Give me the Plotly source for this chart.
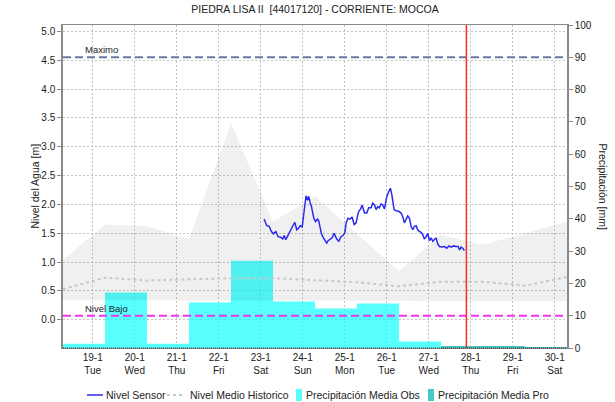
import pandas as pd
import plotly.graph_objects as go

# ---- data -------------------------------------------------------------
TITLE = "PIEDRA LISA II\u00a0 [44017120] - CORRIENTE: MOCOA"

# hydrological days run 07:00 -> 07:00
day_starts = ["2021-01-18 07:00", "2021-01-19 07:00", "2021-01-20 07:00",
              "2021-01-21 07:00", "2021-01-22 07:00", "2021-01-23 07:00",
              "2021-01-24 07:00", "2021-01-25 07:00", "2021-01-26 07:00",
              "2021-01-27 07:00", "2021-01-28 07:00", "2021-01-29 07:00",
              "2021-01-30 07:00"]

# observed / forecast mean precipitation per day [mm]
obs_days = day_starts[:9]
obs_mm = [1.3, 17.2, 1.3, 14.1, 27.0, 14.4, 12.2, 13.8, 2.0]
pro_days = day_starts[9:12]
pro_mm = [0.5, 0.5, 0.3]

# historic level envelope and median [m]
hist_max = [1.04, 1.65, 1.62, 1.40, 3.41, 1.70, 2.14, 1.49, 0.84, 1.47, 1.30, 1.50, 1.70]
hist_min = [0.34, 0.34, 0.34, 0.34, 0.34, 0.34, 0.33, 0.33, 0.33, 0.32, 0.31, 0.32, 0.32]
hist_med = [0.53, 0.73, 0.68, 0.70, 0.72, 0.72, 0.69, 0.65, 0.58, 0.66, 0.66, 0.59, 0.74]

# sensor level, hours after 2021-01-23 00:00
sensor_t0 = "2021-01-23 00:00"
sensor_hours = [1.9, 3.4, 4.8, 6.1, 7.3, 8.6, 9.9, 11.4, 12.6, 13.4, 14.3, 15.7,
                17.1, 18.7, 19.4, 20.6, 21.7, 22.5, 23.7, 24.4, 25.1, 25.9, 26.7,
                27.4, 28.2, 29.0, 29.7, 30.5, 31.4, 32.4, 33.1, 33.9, 34.7, 35.8,
                37.0, 37.7, 38.5, 39.7, 40.8, 41.9, 42.7, 43.4, 44.6, 45.7, 46.9,
                48.0, 48.8, 49.9, 51.1, 52.2, 53.4, 54.5, 55.3, 56.0, 57.1, 57.9,
                59.3, 60.6, 61.7, 63.1, 64.0, 65.0, 65.9, 66.9, 67.8, 68.8, 69.7,
                70.7, 71.3, 72.0, 73.1, 74.1, 74.9, 75.4, 76.2, 77.4, 78.9, 80.2,
                81.1, 82.1, 83.1, 84.0, 85.0, 85.9, 86.9, 87.8, 88.8, 89.7, 90.7,
                91.8, 92.6, 93.5, 94.5, 95.4, 96.4, 97.3, 98.3, 99.3, 100.2, 101.1,
                102.1, 103.6, 105.0, 106.3, 107.5, 108.8, 110.2, 111.7, 112.8,
                113.6, 114.5, 115.4, 116.4]
sensor_m = [1.745, 1.63, 1.62, 1.53, 1.49, 1.53, 1.44, 1.43, 1.40, 1.46, 1.39, 1.47,
            1.55, 1.63, 1.69, 1.56, 1.59, 1.63, 1.61, 1.79, 1.99, 2.15, 2.07,
            2.14, 2.03, 1.96, 1.85, 1.745, 1.70, 1.745, 1.72, 1.57, 1.49, 1.42,
            1.37, 1.33, 1.37, 1.40, 1.42, 1.50, 1.44, 1.40, 1.36, 1.43, 1.46,
            1.50, 1.68, 1.76, 1.745, 1.78, 1.65, 1.68, 1.80, 1.88, 1.92, 1.99,
            1.85, 1.85, 1.94, 1.94, 2.02, 1.99, 1.91, 1.96, 1.94, 2.01, 1.99,
            1.92, 2.02, 2.13, 2.22, 2.28, 2.17, 2.03, 1.91, 1.89, 1.88, 1.85,
            1.79, 1.68, 1.745, 1.80, 1.76, 1.62, 1.56, 1.62, 1.63, 1.56, 1.53,
            1.51, 1.47, 1.40, 1.44, 1.50, 1.37, 1.42, 1.36, 1.39, 1.42, 1.32,
            1.27, 1.26, 1.27, 1.24, 1.28, 1.26, 1.28, 1.27, 1.27,
            1.21, 1.26, 1.24, 1.20]

NIVEL_MAXIMO = 4.55
NIVEL_BAJO = 0.07
NOW = "2021-01-27 21:30"

tick_dates = ["2021-01-%02d" % d for d in range(19, 31)]
tick_text = ["19-1<br>Tue", "20-1<br>Wed", "21-1<br>Thu", "22-1<br>Fri",
             "23-1<br>Sat", "24-1<br>Sun", "25-1<br>Mon", "26-1<br>Tue",
             "27-1<br>Wed", "28-1<br>Thu", "29-1<br>Fri", "30-1<br>Sat"]

legend_labels = ["Nivel Sensor", "Nivel Medio Historico",
                 "Precipitación Media Obs", "Precipitación Media Pro"]

# ---- styling ----------------------------------------------------------
FONT = "Liberation Sans, Arial, sans-serif"
TXT = "#222222"
C_SENSOR = "#2A2AEE"
C_MEDIAN = "#C8C8C8"
C_OBS = "rgba(0,255,255,0.66)"
C_PRO = "#46C8C8"
W, H = 615, 402
ML, MR, MT, MB = 63, 48, 25, 54
PW, PH = W - ML - MR, H - MT - MB


def px_x(px):
    """pixel column -> paper x"""
    return (px - ML) / PW


def px_y(py):
    """pixel row -> paper y"""
    return (H - MB - py) / PH


DAY_MS = 86400000
sensor_x = pd.Timestamp(sensor_t0) + pd.to_timedelta(sensor_hours, unit="h")

fig = go.Figure()

# precipitation bars on the primary (right-hand) axis, drawn beneath levels
fig.add_trace(go.Bar(
    x=obs_days, y=obs_mm, offset=0, width=DAY_MS, yaxis="y",
    marker=dict(color=C_OBS, line=dict(width=0)), name=legend_labels[2]))
fig.add_trace(go.Bar(
    x=pro_days, y=pro_mm, offset=0, width=DAY_MS, yaxis="y",
    marker=dict(color=C_PRO, line=dict(width=0)), name=legend_labels[3]))

# historic envelope
fig.add_trace(go.Scatter(
    x=day_starts + day_starts[::-1], y=hist_max + hist_min[::-1],
    yaxis="y2", mode="lines", fill="toself",
    fillcolor="rgba(0,0,0,0.06)", line=dict(width=0), hoverinfo="skip"))

fig.add_trace(go.Scatter(
    x=day_starts, y=hist_med, yaxis="y2", mode="lines",
    line=dict(color=C_MEDIAN, width=2, dash="3px,3px"), name=legend_labels[1]))

fig.add_trace(go.Scatter(
    x=sensor_x, y=sensor_m, yaxis="y2", mode="lines",
    line=dict(color=C_SENSOR, width=1.5), name=legend_labels[0]))

shapes = [
    dict(type="line", xref="paper", x0=0, x1=1, yref="y2",
         y0=NIVEL_MAXIMO, y1=NIVEL_MAXIMO, layer="above",
         line=dict(color="#6A77A0", width=2, dash="8px,4px")),
    dict(type="line", xref="paper", x0=0, x1=1, yref="y2",
         y0=NIVEL_BAJO, y1=NIVEL_BAJO, layer="above",
         line=dict(color="#EE33EE", width=2, dash="8px,4px")),
    dict(type="line", xref="x", x0=NOW, x1=NOW, yref="paper", y0=0, y1=1,
         layer="above", line=dict(color="#FF2A2A", width=1.5)),
    dict(type="line", xref="paper", x0=0, x1=1, yref="paper", y0=0, y1=0,
         layer="above", line=dict(color="#333333", width=1, dash="1px,1px")),
]

annotations = [
    dict(text="Maximo", xref="paper", x=px_x(83), yref="y2", y=NIVEL_MAXIMO,
         xanchor="left", yanchor="bottom", showarrow=False,
         font=dict(size=9.5, color=TXT)),
    dict(text="Nivel Bajo", xref="paper", x=px_x(83), yref="y2", y=NIVEL_BAJO,
         xanchor="left", yanchor="bottom", showarrow=False,
         font=dict(size=9.5, color=TXT)),
    dict(text="Nivel del Agua [m]", xref="paper", x=px_x(34), yref="paper", y=0.5,
         textangle=-90, xanchor="center", yanchor="middle", showarrow=False,
         font=dict(size=10.5, color=TXT)),
    dict(text="Precipitación [mm]", xref="paper", x=px_x(603), yref="paper", y=0.5,
         textangle=90, xanchor="center", yanchor="middle", showarrow=False,
         font=dict(size=10.5, color=TXT)),
]

# legend row below the date labels
LEG_Y = px_y(395)
shapes += [
    dict(type="line", xref="paper", yref="paper", x0=px_x(87), x1=px_x(103),
         y0=LEG_Y, y1=LEG_Y, line=dict(color=C_SENSOR, width=1.5)),
    dict(type="line", xref="paper", yref="paper", x0=px_x(167), x1=px_x(185),
         y0=LEG_Y, y1=LEG_Y, line=dict(color=C_MEDIAN, width=2, dash="3px,3px")),
    dict(type="rect", xref="paper", yref="paper", x0=px_x(296), x1=px_x(302),
         y0=px_y(401), y1=px_y(389), fillcolor=C_OBS, line=dict(width=0)),
    dict(type="rect", xref="paper", yref="paper", x0=px_x(428), x1=px_x(434),
         y0=px_y(401), y1=px_y(389), fillcolor=C_PRO, line=dict(width=0)),
]
for label, left_px in zip(legend_labels, [104, 188, 304, 436]):
    annotations.append(dict(text=label, xref="paper", x=px_x(left_px),
                            yref="paper", y=LEG_Y, xanchor="left",
                            yanchor="middle", showarrow=False,
                            font=dict(size=10.5, color=TXT)))

GRID = dict(showgrid=True, gridcolor="#C4C4C4", gridwidth=1, griddash="2px,2px")

fig.update_layout(
    width=W, height=H,
    margin=dict(l=ML, r=MR, t=MT, b=MB, pad=0, autoexpand=False),
    paper_bgcolor="white", plot_bgcolor="white",
    font=dict(family=FONT, size=10, color=TXT),
    title=dict(text=TITLE, xref="paper", x=0.5, xanchor="center",
               y=0.985, yanchor="top", font=dict(size=10.5, color=TXT)),
    barmode="overlay",
    showlegend=False,
    xaxis=dict(type="date", range=[day_starts[0], day_starts[-1]],
               tickmode="array", tickvals=tick_dates, ticktext=tick_text,
               ticks="", showline=True, linecolor="#8A8A8A", linewidth=1,
               mirror=True, zeroline=False, tickfont=dict(size=10), **GRID),
    yaxis=dict(range=[0, 100], dtick=10, side="right", showgrid=False,
               zeroline=False, ticks="outside", ticklen=4, tickcolor="#8A8A8A",
               showline=True, linecolor="#8A8A8A", linewidth=1.5,
               tickfont=dict(size=10)),
    yaxis2=dict(range=[-0.49, 5.11], overlaying="y", side="left",
                tickmode="array", tickvals=[i * 0.5 for i in range(11)],
                tickformat=".1f", zeroline=False, ticks="outside", ticklen=4,
                tickcolor="#8A8A8A", showline=True, linecolor="#8A8A8A",
                linewidth=1.5, tickfont=dict(size=10), **GRID),
    shapes=shapes,
    annotations=annotations,
)

fig.write_html("out.html")
